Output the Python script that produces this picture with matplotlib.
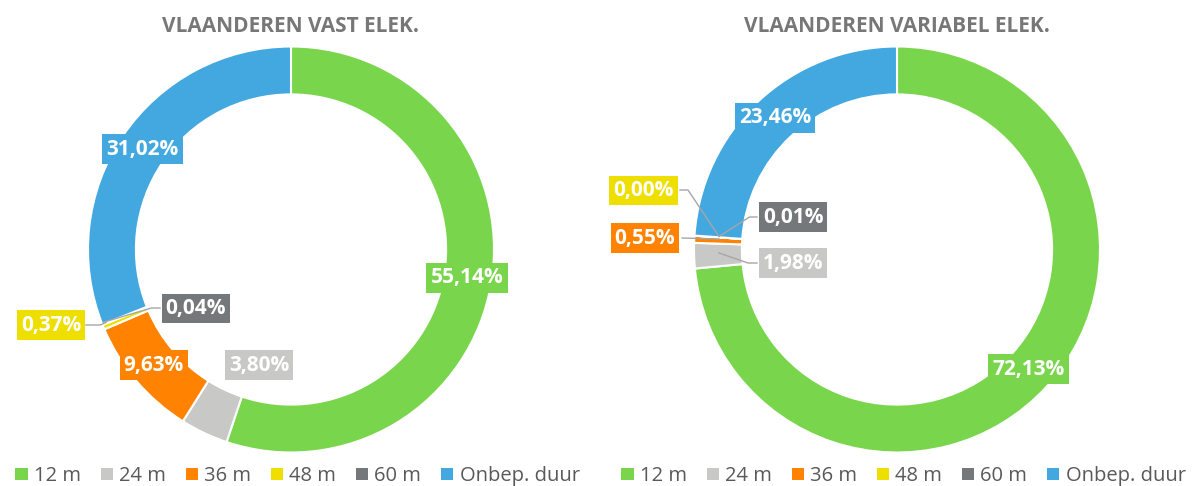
import matplotlib
matplotlib.use("Agg")
import matplotlib.pyplot as plt
from matplotlib.patches import Patch

plt.rcParams['font.family'] = ['Open Sans', 'DejaVu Sans']

categories = ['12 m', '24 m', '36 m', '48 m', '60 m', 'Onbep. duur']
colors = ['#79d64c', '#c8c8c6', '#ff8200', '#eedf00', '#75787b', '#42a8df']
vast = [55.14, 3.80, 9.63, 0.37, 0.04, 31.02]
variabel = [72.13, 1.98, 0.55, 0.00, 0.01, 23.46]
titles = ['VLAANDEREN VAST ELEK.', 'VLAANDEREN VARIABEL ELEK.']

W, H = 1203, 486
fig = plt.figure(figsize=(W / 100, H / 100), dpi=100)

R = 203  # pixel radius


def make_ax(cx, cy):
    ax = fig.add_axes([(cx - R) / W, (H - cy - R) / H, 2 * R / W, 2 * R / H])
    ax.set_xlim(-1, 1)
    ax.set_ylim(-1, 1)
    ax.axis('off')
    return ax


def pix(cx, cy, px, py):
    return ((px - cx) / R, (cy - py) / R)


def fmt(v):
    return f"{v:.2f}".replace('.', ',') + '%'


# label positions in pixel coords (text centers) and leader lines
left_cfg = dict(
    center=(291, 249.5),
    labels=[(467, 278), (259, 365), (154, 365), (51, 325), (196, 308.5), (142.5, 149)],
    leaders={3: [(86, 325), (100, 325), (106, 322.5)],
             4: [(160, 308), (151.5, 308), (104, 322)]},
)
right_cfg = dict(
    center=(897, 249.5),
    labels=[(1028.5, 369), (793, 263), (645, 238), (643.5, 190.5), (793, 217), (775, 118)],
    leaders={1: [(757, 263), (748, 263), (719, 253)],
             2: [(682, 238), (719, 239)],
             3: [(680, 190), (688, 190), (719, 236.5)],
             4: [(757, 217), (749.5, 217), (719, 236.5)]},
)

for vals, cfg, title in [(vast, left_cfg, titles[0]), (variabel, right_cfg, titles[1])]:
    cx, cy = cfg['center']
    ax = make_ax(cx, cy)
    ax.pie(vals, colors=colors, startangle=90, counterclock=False, radius=1.0,
           wedgeprops=dict(width=0.236, edgecolor='white', linewidth=1.5))
    ax.set_xlim(-1, 1)
    ax.set_ylim(-1, 1)
    for i, (v, (px, py)) in enumerate(zip(vals, cfg['labels'])):
        if i in cfg['leaders']:
            pts = [pix(cx, cy, a, b) for a, b in cfg['leaders'][i]]
            ax.plot([p[0] for p in pts], [p[1] for p in pts], color='#a6a6a6',
                    lw=1.0, clip_on=False, zorder=3)
        x, y = pix(cx, cy, px, py)
        ax.text(x, y, fmt(v), ha='center', va='center', color='white',
                fontsize=15, fontweight='bold', zorder=5, clip_on=False,
                bbox=dict(boxstyle='square,pad=0.2', fc=colors[i], ec='none'))
    fig.text(cx / W, 1 - 27 / H, title, ha='center', va='center',
             fontsize=15, fontweight='bold', color='#777777')

handles = [Patch(facecolor=c, edgecolor='none') for c in colors]
for xc in (297.5 / W, 903.5 / W):
    fig.legend(handles, categories, loc='center', bbox_to_anchor=(xc, 1 - 476 / H),
               ncol=6, frameon=False, fontsize=14.5, handlelength=0.6, handleheight=0.6,
               handletextpad=0.3, columnspacing=1.0, labelcolor='#595959',
               borderpad=0, borderaxespad=0)

fig.savefig('out.png', dpi=100)
